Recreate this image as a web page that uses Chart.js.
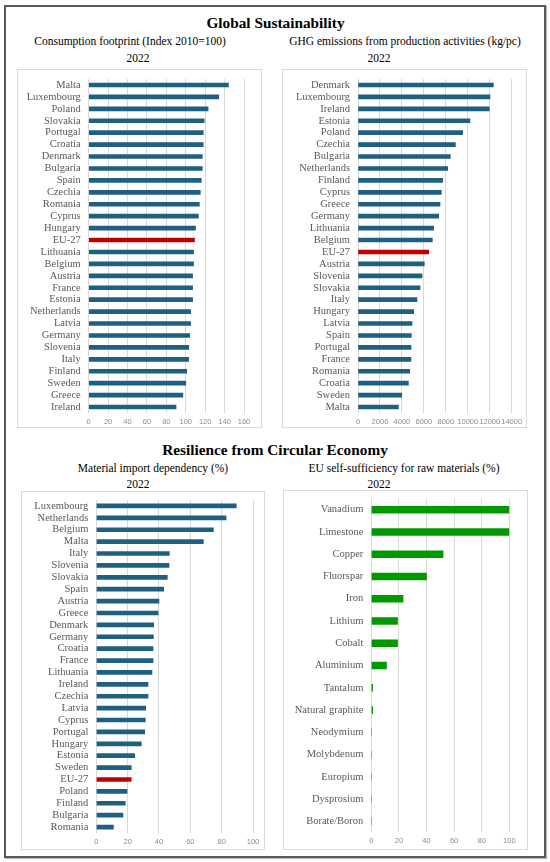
<!DOCTYPE html>
<html>
<head>
<meta charset="utf-8">
<script src="https://cdn.jsdelivr.net/npm/chart.js@4.4.1/dist/chart.umd.min.js"></script>
<style>
  html, body { margin:0; padding:0; background:#fff; }
  body { width:550px; height:862px; position:relative; overflow:hidden; font-family:"Liberation Serif", "Times New Roman", serif; }
  .frame { position:absolute; left:4px; top:5px; width:538px; height:849px; border:2px solid #595959; box-shadow:1px 1px 1px #bbb; }
  .txt { position:absolute; transform:translate(-50%,-50%); white-space:nowrap; color:#000; }
  .main { font-size:15.3px; font-weight:bold; }
  .sub { font-size:11.5px; }
  .box { position:absolute; border:1px solid #d9d9d9; box-sizing:border-box; }
  .box canvas { position:absolute; left:0; top:0; }
</style>
</head>
<body>
<div class="frame"></div>
<div class="txt main" style="left:275.5px;top:22.5px;">Global Sustainability</div>
<div class="txt sub" style="left:130px;top:41px;">Consumption footprint (Index 2010=100)</div>
<div class="txt sub" style="left:138px;top:57.5px;">2022</div>
<div class="txt sub" style="left:405px;top:41px;">GHG emissions from production activities (kg/pc)</div>
<div class="txt sub" style="left:379px;top:57.5px;">2022</div>
<div class="txt main" style="left:275px;top:450px;">Resilience from Circular Economy</div>
<div class="txt sub" style="left:153px;top:468px;">Material import dependency (%)</div>
<div class="txt sub" style="left:138px;top:483.5px;">2022</div>
<div class="txt sub" style="left:404px;top:468px;">EU self-sufficiency for raw materials (%)</div>
<div class="txt sub" style="left:379px;top:483.5px;">2022</div>

<div class="box" style="left:17px;top:69px;width:245px;height:359px;"><canvas id="c1"></canvas></div>
<div class="box" style="left:282px;top:69px;width:245px;height:359px;"><canvas id="c2"></canvas></div>
<div class="box" style="left:21px;top:491px;width:244px;height:359px;"><canvas id="c3"></canvas></div>
<div class="box" style="left:283px;top:490px;width:245px;height:360px;"><canvas id="c4"></canvas></div>

<script>
// ---- Data ----
const footprintCountries = ["Malta","Luxembourg","Poland","Slovakia","Portugal","Croatia","Denmark","Bulgaria","Spain","Czechia","Romania","Cyprus","Hungary","EU-27","Lithuania","Belgium","Austria","France","Estonia","Netherlands","Latvia","Germany","Slovenia","Italy","Finland","Sweden","Greece","Ireland"];
const footprintValues = [144,134,123,119,118,118,117,117,116,115,114,113,110,109,108,108,107,107,107,105,105,104,103,103,101,100,97,90];
const footprintTicks = [0,20,40,60,80,100,120,140,160];

const ghgCountries = ["Denmark","Luxembourg","Ireland","Estonia","Poland","Czechia","Bulgaria","Netherlands","Finland","Cyprus","Greece","Germany","Lithuania","Belgium","EU-27","Austria","Slovenia","Slovakia","Italy","Hungary","Latvia","Spain","Portugal","France","Romania","Croatia","Sweden","Malta"];
const ghgValues = [12330,12020,11960,10200,9530,8870,8410,8170,7710,7590,7470,7350,6890,6770,6440,6040,5830,5650,5370,5070,4920,4860,4830,4820,4710,4590,3980,3680];
const ghgTicks = [0,2000,4000,6000,8000,10000,12000,14000];

const importCountries = ["Luxembourg","Netherlands","Belgium","Malta","Italy","Slovenia","Slovakia","Spain","Austria","Greece","Denmark","Germany","Croatia","France","Lithuania","Ireland","Czechia","Latvia","Cyprus","Portugal","Hungary","Estonia","Sweden","EU-27","Poland","Finland","Bulgaria","Romania"];
const importValues = [89.3,82.8,74.7,68.3,46.6,46.4,45.3,43.0,40.0,39.4,36.6,36.4,36.2,36.2,35.5,33.0,33.0,31.5,31.3,30.9,28.7,24.5,22.3,22.3,19.6,18.5,17.0,10.9];
const importTicks = [0,20,40,60,80,100];

const materials = ["Vanadium","Limestone","Copper","Fluorspar","Iron","Lithium","Cobalt","Aluminium","Tantalum","Natural graphite","Neodymium","Molybdenum","Europium","Dysprosium","Borate/Boron"];
const selfSuffValues = [100,100,52,40,23,19,19,11,1,1,0,0,0,0,0];
const selfSuffTicks = [0,20,40,60,80,100];

const EU_LABEL = "EU-27";
const BLUE = "#1f5f7f", RED = "#c00000", GREEN = "#009a00";

function makeChart(id, w, h, labels, values, ticks, opts) {
  const cv = document.getElementById(id);
  cv.width = w; cv.height = h;
  cv.style.width = w + "px"; cv.style.height = h + "px";
  const colors = labels.map(l => l === EU_LABEL ? RED : opts.color);
  return new Chart(cv, {
    type: "bar",
    data: { labels: labels, datasets: [{ data: values, backgroundColor: colors, borderWidth: 0, barThickness: opts.bar }] },
    options: {
      indexAxis: "y",
      responsive: false,
      animation: false,
      devicePixelRatio: 1,
      layout: { padding: opts.pad },
      plugins: { legend: { display: false }, tooltip: { enabled: false }, title: { display: false } },
      scales: {
        x: {
          min: ticks[0], max: ticks[ticks.length - 1],
          afterBuildTicks: (ax) => { ax.ticks = ticks.map(v => ({ value: v })); },
          grid: { color: "#d9d9d9", drawTicks: false, lineWidth: 1 },
          border: { display: false },
          ticks: { color: "#8c8c8c", font: { family: "Liberation Sans", size: 7.5 }, padding: 4, maxRotation: 0, autoSkip: false,
                   callback: (v) => String(v) },
          afterFit: (ax) => { ax.height = opts.xh; ax.paddingLeft = 0; ax.paddingRight = 0; }
        },
        y: {
          grid: { display: false, drawTicks: false },
          border: { display: false },
          ticks: { color: "#595959", font: { family: "Liberation Serif", size: 10.5 }, padding: opts.lp, autoSkip: false },
          afterFit: (ax) => { ax.width = opts.yw; ax.paddingTop = 0; ax.paddingBottom = 0; }
        }
      }
    }
  });
}

makeChart("c1", 243, 357, footprintCountries, footprintValues, footprintTicks,
  { color: BLUE, bar: 4, pad: { left: 0, right: 17, top: 9, bottom: 0 }, xh: 14, yw: 70.7, lp: 8 });
makeChart("c2", 243, 357, ghgCountries, ghgValues, ghgTicks,
  { color: BLUE, bar: 4, pad: { left: 0, right: 14.3, top: 9, bottom: 0 }, xh: 14, yw: 75, lp: 8 });
makeChart("c3", 242, 357, importCountries, importValues, importTicks,
  { color: BLUE, bar: 4, pad: { left: 0, right: 11, top: 8, bottom: 0 }, xh: 16, yw: 74.3, lp: 8 });
makeChart("c4", 243, 358, materials, selfSuffValues, selfSuffTicks,
  { color: GREEN, bar: 7, pad: { left: 0, right: 17.7, top: 7.6, bottom: 0 }, xh: 16.6, yw: 87.3, lp: 8 });
</script>
</body>
</html>
